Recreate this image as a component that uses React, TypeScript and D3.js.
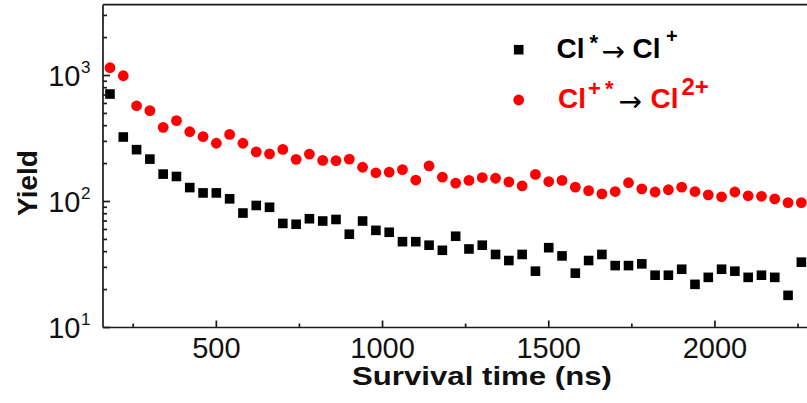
import * as d3 from 'd3'

// survival time (ns), one point every 40 ns
const times = [
  180, 220, 260, 300, 340, 380, 420, 460, 500, 540,
  580, 620, 660, 700, 740, 780, 820, 860, 900, 940,
  980, 1020, 1060, 1100, 1140, 1180, 1220, 1260, 1300, 1340,
  1380, 1420, 1460, 1500, 1540, 1580, 1620, 1660, 1700, 1740,
  1780, 1820, 1860, 1900, 1940, 1980, 2020, 2060, 2100, 2140,
  2180, 2220, 2260,
]

// Cl* -> Cl+
const yieldNeutral = [
  713, 325, 258, 217, 165, 158, 129, 117, 117, 105,
  81, 93, 90, 67, 66, 73, 70, 72, 55, 70,
  59, 57, 48, 48, 45, 41, 53, 42, 45, 38,
  34, 38, 28, 43, 37, 27, 34, 38, 31, 31,
  32, 26, 26, 29, 22, 25, 29, 28, 25, 26,
  25, 18, 33,
]

// Cl+* -> Cl2+
const yieldIon = [
  1153, 996, 575, 526, 388, 438, 358, 327, 290, 341,
  290, 248, 239, 259, 216, 238, 212, 211, 217, 187,
  169, 171, 179, 148, 192, 156, 140, 147, 155, 153,
  143, 133, 164, 144, 147, 130, 122, 115, 120, 141,
  126, 119, 124, 130, 120, 113, 109, 119, 111, 110,
  105, 98, 98,
]

const xTicks = [500, 1000, 1500, 2000]
const xMinor = [250, 750, 1250, 1750, 2250]
const yDecades = [1, 2, 3]

const W = 807
const H = 403
const FONT = 'Liberation Sans, Arial, sans-serif'
const ARROW_FONT = 'DejaVu Sans, sans-serif'
const AXIS = '#1a1a1a'
const RED = '#ff0000'

const x = d3.scaleLinear().domain([159, 2277]).range([103, 807])
const y = d3.scaleLog().domain([10, 3648]).range([327.5, 4.7])

export default function App() {
  const [x0, x1] = x.range()
  const [yb, yt] = y.range()

  const yMinor: number[] = []
  for (const dec of [10, 100, 1000]) {
    for (let m = 2; m <= 9; m++) {
      const v = dec * m
      if (v <= y.domain()[1]) yMinor.push(v)
    }
  }

  return (
    <svg
      width={W}
      height={H}
      viewBox={`0 0 ${W} ${H}`}
      style={{ position: 'absolute', left: 0, top: 0, background: '#fff' }}
      fontFamily={FONT}
    >
      <rect width={W} height={H} fill="#fff" />

      {/* markers */}
      <g>
        {times.map((t, i) => (
          <circle key={'r' + t} cx={x(t)} cy={y(yieldIon[i])} r={5.4} fill={RED} />
        ))}
        {times.map((t, i) => (
          <rect
            key={'b' + t}
            x={x(t) - 4.8}
            y={y(yieldNeutral[i]) - 4.8}
            width={9.6}
            height={9.6}
            fill="#000"
          />
        ))}
      </g>

      {/* axes frame */}
      <g stroke={AXIS} strokeWidth={1.7} fill="none">
        <line x1={x0} x2={x1} y1={yt} y2={yt} />
        <line x1={x0} x2={x1} y1={yb} y2={yb} />
        <line x1={x0} x2={x0} y1={yt} y2={yb} />
        {xTicks.map(t => (
          <line key={t} x1={x(t)} x2={x(t)} y1={yb} y2={yb - 7} />
        ))}
        {xMinor.map(t => (
          <line key={t} x1={x(t)} x2={x(t)} y1={yb} y2={yb - 4} />
        ))}
        {yDecades.map(d => (
          <line key={d} x1={x0} x2={x0 + 7} y1={y(10 ** d)} y2={y(10 ** d)} />
        ))}
        {yMinor.map(v => (
          <line key={v} x1={x0} x2={x0 + 4} y1={y(v)} y2={y(v)} />
        ))}
      </g>

      {/* x tick labels */}
      <g fontSize={29} fill="#111" textAnchor="middle">
        {xTicks.map(t => (
          <text key={t} x={x(t)} y={357.5}>{t}</text>
        ))}
      </g>

      {/* y tick labels */}
      <g fill="#111">
        {yDecades.map(d => (
          <g key={d} transform={`translate(0,${y(10 ** d) + 10.5})`}>
            <text x={80.5} textAnchor="end" fontSize={29}>10</text>
            <text x={81} y={-13} fontSize={17}>{d}</text>
          </g>
        ))}
      </g>

      {/* axis titles */}
      <text
        x={482}
        y={384.5}
        textAnchor="middle"
        fontSize={26}
        fontWeight="bold"
        fill="#111"
        textLength={260}
        lengthAdjust="spacingAndGlyphs"
      >
        Survival time (ns)
      </text>
      <text
        transform="translate(37,183) rotate(-90)"
        textAnchor="middle"
        fontSize={28}
        fontWeight="bold"
        fill="#111"
      >
        Yield
      </text>

      {/* legend */}
      <rect x={518.7 - 4.8} y={49.7 - 4.8} width={9.6} height={9.6} fill="#000" />
      <circle cx={518.7} cy={100} r={5.4} fill={RED} />

      <g fontWeight="bold" fill="#000">
        <text x={556.5} y={58.3} fontSize={28}>Cl</text>
        <text x={589.5} y={50} fontSize={22}>*</text>
        <text x={601.5} y={61} fontSize={28} fontWeight="normal" fontFamily={ARROW_FONT}>→</text>
        <text x={632.5} y={58.3} fontSize={28}>Cl</text>
        <text x={666} y={43} fontSize={20}>+</text>
      </g>
      <g fontWeight="bold" fill={RED}>
        <text x={558} y={108.3} fontSize={28}>Cl</text>
        <text x={588} y={96} fontSize={22}>+</text>
        <text x={605} y={96} fontSize={22}>*</text>
        <text x={618.5} y={111} fontSize={28} fontWeight="normal" fontFamily={ARROW_FONT} fill="#000">→</text>
        <text x={650.5} y={108.3} fontSize={28}>Cl</text>
        <text x={681.5} y={94.5} fontSize={24}>2+</text>
      </g>
    </svg>
  )
}
